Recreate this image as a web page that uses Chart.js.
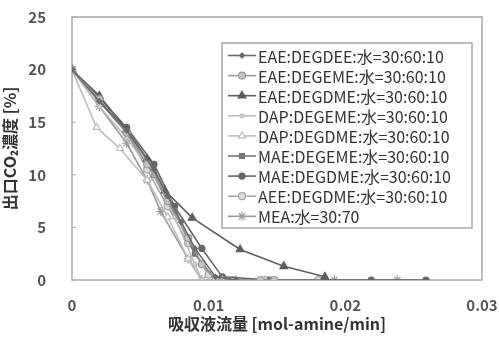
<!DOCTYPE html>
<html>
<head>
<meta charset="utf-8">
<script src="https://cdn.jsdelivr.net/npm/chart.js@4"></script>
<style>
  html, body { margin: 0; padding: 0; background: #fff; }
  #wrap { width: 499px; height: 337px; }
</style>
</head>
<body>
<div id="wrap"><canvas id="co2Chart" width="499" height="337"></canvas></div>
<script>
// 出口CO2濃度 vs 吸収液流量 : 9 solvent blends, grayscale like the original figure.

const LABELS = [
    'EAE:DEGDEE:水=30:60:10',
    'EAE:DEGEME:水=30:60:10',
    'EAE:DEGDME:水=30:60:10',
    'DAP:DEGEME:水=30:60:10',
    'DAP:DEGDME:水=30:60:10',
    'MAE:DEGEME:水=30:60:10',
    'MAE:DEGDME:水=30:60:10',
    'AEE:DEGDME:水=30:60:10',
    'MEA:水=30:70'
];

// flow rate [mol-amine/min] / outlet CO2 [%]
const X_EAE_DEGDEE = [0, 0.002, 0.004, 0.006, 0.007, 0.008, 0.009, 0.0105, 0.012];
const Y_EAE_DEGDEE = [20, 17.0, 14.2, 10.5, 8.0, 5.5, 3.0, 0.3, 0];
const X_EAE_DEGEME = [0, 0.002, 0.004, 0.0055, 0.007, 0.0085, 0.0095, 0.0105, 0.0138, 0.0148];
const Y_EAE_DEGEME = [20, 17.2, 14.0, 11.0, 7.5, 4.0, 1.5, 0, 0, 0];
const X_EAE_DEGDME = [0, 0.002, 0.004, 0.0055, 0.0068, 0.0088, 0.0123, 0.0155, 0.0185];
const Y_EAE_DEGDME = [20, 17.5, 14.3, 11.5, 8.5, 5.9, 2.9, 1.3, 0.3];
const X_DAP_DEGEME = [0, 0.002, 0.004, 0.006, 0.0075, 0.009, 0.0095, 0.0105];
const Y_DAP_DEGEME = [20, 16.5, 13.5, 10.0, 6.0, 1.5, 0, 0];
const X_DAP_DEGDME = [0, 0.0018, 0.0035, 0.0055, 0.007, 0.0085, 0.0095, 0.011];
const Y_DAP_DEGDME = [20, 14.5, 12.5, 9.5, 6.0, 2.0, 0, 0];
const X_MAE_DEGEME = [0, 0.002, 0.004, 0.006, 0.0075, 0.009, 0.0105, 0.0145];
const Y_MAE_DEGEME = [20, 17.0, 14.0, 10.0, 6.5, 2.5, 0, 0];
const X_MAE_DEGDME = [0, 0.002, 0.004, 0.006, 0.0075, 0.0095, 0.011, 0.0145, 0.0185, 0.0219, 0.0259];
const Y_MAE_DEGDME = [20, 17.3, 14.5, 11.0, 7.0, 3.0, 0.3, 0, 0, 0, 0];
const X_AEE_DEGDME = [0, 0.002, 0.004, 0.0055, 0.007, 0.0085, 0.01, 0.0118, 0.0142, 0.018];
const Y_AEE_DEGDME = [20, 17.0, 14.0, 10.5, 7.0, 3.5, 0.5, 0, 0, 0];
const X_MEA = [0, 0.002, 0.004, 0.0055, 0.0065, 0.0085, 0.0095, 0.012, 0.0192, 0.0238];
const Y_MEA = [20, 16.5, 13.0, 9.5, 6.5, 2.0, 0, 0, 0, 0];

const X_TICKS = [0, 0.01, 0.02, 0.03];
const Y_TICKS = [0, 5, 10, 15, 20, 25];

const SERIES_X = [X_EAE_DEGDEE, X_EAE_DEGEME, X_EAE_DEGDME, X_DAP_DEGEME, X_DAP_DEGDME, X_MAE_DEGEME, X_MAE_DEGDME, X_AEE_DEGDME, X_MEA];
const SERIES_Y = [Y_EAE_DEGDEE, Y_EAE_DEGEME, Y_EAE_DEGDME, Y_DAP_DEGEME, Y_DAP_DEGDME, Y_MAE_DEGEME, Y_MAE_DEGDME, Y_AEE_DEGDME, Y_MEA];

const STYLES = [
    { color: '#6a6a6a', fill: '#6a6a6a', point: 'rectRot',  r: 2.5 },
    { color: '#9a9a9a', fill: '#c4c4c4', point: 'circle',   r: 3.5 },
    { color: '#5e5e5e', fill: '#5e5e5e', point: 'triangle', r: 4.5 },
    { color: '#bdbdbd', fill: '#d0d0d0', point: 'circle',   r: 2 },
    { color: '#bdbdbd', fill: '#ffffff', point: 'triangle', r: 4 },
    { color: '#777777', fill: '#777777', point: 'rect',     r: 3.5 },
    { color: '#666666', fill: '#666666', point: 'circle',   r: 3 },
    { color: '#a6a6a6', fill: '#dadada', point: 'circle',   r: 3.5 },
    { color: '#999999', fill: '#999999', point: 'star',     r: 4.5 }
];

const FONT = "'Noto Sans CJK JP', 'Noto Sans', sans-serif";

const datasets = LABELS.map((label, i) => ({
    label,
    data: SERIES_X[i].map((x, j) => ({ x, y: SERIES_Y[i][j] })),
    borderColor: STYLES[i].color,
    backgroundColor: STYLES[i].fill,
    pointBorderColor: STYLES[i].color,
    pointBackgroundColor: STYLES[i].fill,
    pointStyle: STYLES[i].point,
    pointRadius: STYLES[i].r,
    pointBorderWidth: 1.2,
    borderWidth: 1.6,
    showLine: true,
    tension: 0
}));

// plot frame + in-plot legend box
const framePlugin = {
    id: 'frame',
    beforeDatasetsDraw(chart) {
        const { ctx, chartArea: a } = chart;
        ctx.save();
        ctx.strokeStyle = '#a8a8a8';
        ctx.lineWidth = 1.5;
        ctx.strokeRect(a.left, a.top, a.right - a.left, a.bottom - a.top);
        // short tick marks on the y axis, inside the frame
        ctx.lineWidth = 1;
        chart.scales.y.ticks.forEach(t => {
            const py = chart.scales.y.getPixelForValue(t.value);
            ctx.beginPath();
            ctx.moveTo(a.left, py);
            ctx.lineTo(a.left + 4, py);
            ctx.stroke();
        });
        ctx.restore();
    },
    afterDraw(chart) {
        const { ctx } = chart;
        const box = { x: 222, y: 43, w: 250, h: 185 };
        ctx.save();
        ctx.fillStyle = '#fff';
        ctx.fillRect(box.x, box.y, box.w, box.h);
        ctx.strokeStyle = '#a8a8a8';
        ctx.lineWidth = 1.5;
        ctx.strokeRect(box.x, box.y, box.w, box.h);
        ctx.font = '16px ' + FONT;
        ctx.textBaseline = 'middle';
        chart.data.datasets.forEach((ds, i) => {
            const y = box.y + 12.5 + i * 20.1;
            ctx.strokeStyle = ds.borderColor;
            ctx.lineWidth = 1.6;
            ctx.beginPath();
            ctx.moveTo(box.x + 6, y);
            ctx.lineTo(box.x + 34, y);
            ctx.stroke();
            ctx.fillStyle = ds.pointBackgroundColor;
            ctx.strokeStyle = ds.pointBorderColor;
            ctx.lineWidth = 1.2;
            Chart.helpers.drawPoint(ctx, { pointStyle: ds.pointStyle, radius: ds.pointRadius, rotation: 0, borderWidth: 1.2 }, box.x + 20, y);
            ctx.fillStyle = '#333';
            ctx.fillText(ds.label, box.x + 36, y + 1);
        });
        ctx.restore();
    }
};

new Chart(document.getElementById('co2Chart').getContext('2d'), {
    type: 'scatter',
    data: { datasets },
    options: {
        responsive: false, animation: false,
        layout: { padding: { top: 17, right: 17, left: 0, bottom: 0 } },
        plugins: { legend: { display: false }, tooltip: { enabled: false } },
        scales: {
            x: {
                type: 'linear', min: 0, max: 0.03,
                afterBuildTicks: s => { s.ticks = X_TICKS.map(v => ({ value: v })); },
                afterFit: s => { s.height = 57; s.paddingLeft = 0; s.paddingRight = 0; },
                grid: { display: false },
                border: { display: false },
                ticks: { color: '#555', padding: 8, font: { family: FONT, size: 15, weight: 'bold' }, callback: v => String(v) },
                title: { display: true, text: '吸収液流量 [mol-amine/min]', color: '#333', padding: { top: 0, bottom: 3 }, font: { family: FONT, size: 16, weight: 'bold' } }
            },
            y: {
                type: 'linear', min: 0, max: 25,
                afterBuildTicks: s => { s.ticks = Y_TICKS.map(v => ({ value: v })); },
                afterFit: s => { s.width = 72; s.paddingTop = 0; s.paddingBottom = 0; },
                grid: { display: false },
                border: { display: false },
                ticks: { color: '#555', padding: 18, font: { family: FONT, size: 15, weight: 'bold' } },
                title: { display: true, text: '出口CO₂濃度 [%]', color: '#333', padding: { top: 0, bottom: 2 }, font: { family: FONT, size: 16, weight: 'bold' } }
            }
        }
    },
    plugins: [framePlugin]
});
</script>
</body>
</html>
